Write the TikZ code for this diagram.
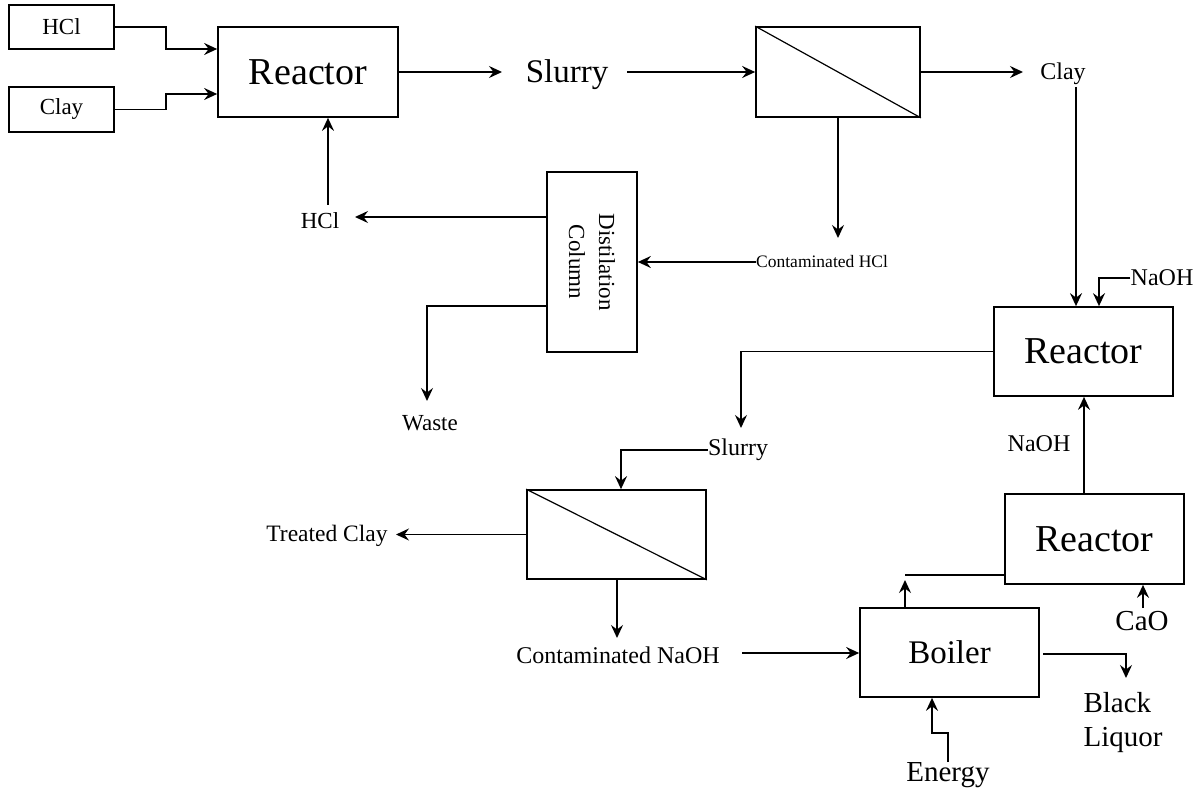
\documentclass[tikz,border=0pt]{standalone}
\usepackage{fontspec}
\setmainfont{Liberation Serif}
\usetikzlibrary{arrows.meta}
\newcommand\fsz[2]{\fontsize{#1}{#2}\selectfont}
\begin{document}
\begin{tikzpicture}[x=1pt,y=-1pt,
  box/.style={draw, line width=1.7pt, inner sep=0pt},
  lbl/.style={inner sep=0pt},
  arr/.style={-{Stealth[length=13pt,width=12pt,inset=4.5pt]}, line width=1.7pt},
  ln/.style={line width=1.7pt},
  diag/.style={line width=1.2pt}]
\useasboundingbox (0,0) rectangle (1201,791);
% boxes
\node[box, minimum width=105, minimum height=44, font=\fsz{23}{27}] (hclbox) at (61.5,27) {HCl};
\node[box, minimum width=105, minimum height=45, font=\fsz{23}{27}] (claybox) at (61.5,109.5) {Clay};
\node[box, minimum width=180, minimum height=90, font=\fsz{38}{45}] (r1) at (308,72) {Reactor};
\node[box, minimum width=164, minimum height=90] (f1) at (838,72) {};
\node[box, minimum width=90, minimum height=180] (dc) at (592,262) {};
\node[lbl, rotate=-90, align=center, font=\fsz{23}{30}] (dctext) at (592,262) {Distilation\\Column};
\node[box, minimum width=179, minimum height=89, font=\fsz{38}{45}] (r2) at (1083.5,351.5) {Reactor};
\node[box, minimum width=179, minimum height=89] (f2) at (616.5,534.5) {};
\node[box, minimum width=179, minimum height=90, font=\fsz{38}{45}] (r3) at (1094.5,539) {Reactor};
\node[box, minimum width=179, minimum height=89, font=\fsz{33}{39}] (boiler) at (949.5,652.5) {Boiler};
\draw[diag] (f1.north west) -- (f1.south east);
\draw[diag] (f2.north west) -- (f2.south east);
% labels
\node[lbl, font=\fsz{33}{39}] (slurry1) at (567,75) {Slurry};
\node[lbl, font=\fsz{24}{28}] (clay1) at (1063,74) {Clay};
\node[lbl, font=\fsz{23}{27}] (hcl2) at (320,221) {HCl};
\node[lbl, anchor=west, font=\fsz{17.5}{20}] (chcl) at (756,262) {Contaminated HCl};
\node[lbl, font=\fsz{23}{27}] (waste) at (430,423) {Waste};
\node[lbl, font=\fsz{24}{28}] (naoh1) at (1162,278) {NaOH};
\node[lbl, font=\fsz{24}{28}] (slurry2) at (738,450) {Slurry};
\node[lbl, font=\fsz{24}{28}] (naoh2) at (1039,444) {NaOH};
\node[lbl, font=\fsz{23.5}{27}] (tclay) at (327,536) {Treated Clay};
\node[lbl, font=\fsz{24}{28}] (cnaoh) at (618,655) {Contaminated NaOH};
\node[lbl, font=\fsz{29}{34}] (cao) at (1142,621) {CaO};
\node[lbl, align=left, font=\fsz{29}{34}] (bl) at (1123,723) {Black\\Liquor};
\node[lbl, font=\fsz{29}{34}] (energy) at (948,775) {Energy};
% connectors
\draw[arr] (hclbox.east) -- (166,27) -- (166,49) -- (r1.west |- 0,49);
\draw[arr] (claybox.east) -- (166,109.5) -- (166,94) -- (r1.west |- 0,94);
\draw[arr] (328,205) -- (r1.south -| 328,0);
\draw[arr] (dc.west |- 0,217) -- (355,217);
\draw[arr] (chcl.west) -- (dc.east |- chcl.west);
\draw[arr] (dc.west |- 0,306) -- (427,306) -- (427,401);
\draw[arr] (r1.east) -- (502,72);
\draw[arr] (627,72) -- (f1.west);
\draw[arr] (f1.east) -- (1023,72);
\draw[arr] (f1.south -| 838,0) -- (838,238);
\draw[arr] (1076,87) -- (r2.north -| 1076,0);
\draw[arr] (naoh1.west) -| (r2.north -| 1099,0);
\draw[arr] (r2.west) -| (741,428);
\draw[arr] (slurry2.west) -| (f2.north -| 621,0);
\draw[arr] (f2.west) -- (396,534.5);
\draw[arr] (f2.south -| 617,0) -- (617,638);
\draw[arr] (742,653) -- (boiler.west |- 0,653);
\draw[arr] (r3.north -| 1084,0) -- (r2.south -| 1084,0);
\draw[arr] (boiler.north -| 905,0) -- (905,580);
\draw[ln] (905,575) -- (r3.west |- 0,575);
\draw[arr] (1143,608) -- (r3.south -| 1143,0);
\draw[arr] (1043,654) -- (1126,654) -- (1126,678);
\draw[arr] (energy.north -| 948,0) -- (948,733) -- (932,733) -- (boiler.south -| 932,0);
\end{tikzpicture}
\end{document}
